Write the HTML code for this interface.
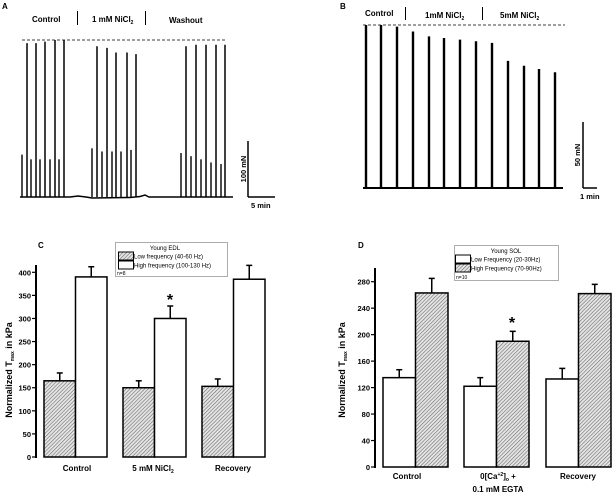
<!DOCTYPE html>
<html><head><meta charset="utf-8"><style>
body{margin:0;background:#fff}
svg{display:block;font-family:"Liberation Sans",Arial,sans-serif}
</style></head><body>
<svg id="fig" width="614" height="496" viewBox="0 0 614 496" xmlns="http://www.w3.org/2000/svg">
<defs>
<pattern id="hatch" width="2.6" height="2.6" patternUnits="userSpaceOnUse" patternTransform="rotate(45)">
<rect width="2.6" height="2.6" fill="#e4e4e4"/><line x1="0" y1="0" x2="0" y2="2.6" stroke="#666" stroke-width="1.1"/>
</pattern>
</defs>
<g id="panelA">
<text x="2" y="9" font-size="8" font-weight="bold">A</text>
<text x="32" y="22" font-size="8" font-weight="bold">Control</text>
<line x1="77.5" y1="11" x2="77.5" y2="25" stroke="#000"/>
<text x="92" y="22" font-size="8" font-weight="bold">1 mM NiCl<tspan font-size="5" dy="2">2</tspan></text>
<line x1="145.5" y1="11" x2="145.5" y2="25" stroke="#000"/>
<text x="169" y="23" font-size="8" font-weight="bold">Washout</text>
<line x1="22" y1="40" x2="227" y2="40" stroke="#000" stroke-width="0.7" stroke-dasharray="3,2"/>
<path d="M20 197 L70 197 L78 196 L86 197 L92 198 L130 197.5 L140 196.5 L145 195 L149 197 L233 197" fill="none" stroke="#000" stroke-width="1.5"/>
<g id="spikesA"></g>
<line x1="248" y1="141" x2="248" y2="197" stroke="#000" stroke-width="1.5"/>
<line x1="248" y1="197" x2="275" y2="197" stroke="#000" stroke-width="1.5"/>
<text transform="translate(246,169) rotate(-90)" text-anchor="middle" font-size="7.5" font-weight="bold">100 mN</text>
<text x="251" y="208" font-size="7.5" font-weight="bold">5 min</text>
</g>
<g id="panelB">
<text x="340" y="9" font-size="8" font-weight="bold">B</text>
<text x="365" y="16" font-size="8" font-weight="bold">Control</text>
<line x1="405.5" y1="7" x2="405.5" y2="20" stroke="#000"/>
<text x="425" y="18" font-size="8" font-weight="bold">1mM NiCl<tspan font-size="5" dy="2">2</tspan></text>
<line x1="482.5" y1="7" x2="482.5" y2="20" stroke="#000"/>
<text x="500" y="18" font-size="8" font-weight="bold">5mM NiCl<tspan font-size="5" dy="2">2</tspan></text>
<line x1="363" y1="25" x2="565" y2="25" stroke="#000" stroke-width="0.7" stroke-dasharray="3,2"/>
<line x1="363" y1="188" x2="563" y2="188" stroke="#000" stroke-width="2"/>
<g id="spikesB"></g>
<line x1="583" y1="122" x2="583" y2="188" stroke="#000" stroke-width="1.5"/>
<line x1="583" y1="188" x2="597" y2="188" stroke="#000" stroke-width="1.5"/>
<text transform="translate(580,155) rotate(-90)" text-anchor="middle" font-size="7.5" font-weight="bold">50 mN</text>
<text x="580" y="199" font-size="7.5" font-weight="bold">1 min</text>
</g>
<g id="panelC">
<text x="38" y="248" font-size="8" font-weight="bold">C</text>
<g id="axC"></g><g id="barsC"></g>
<text transform="translate(12,370) rotate(-90)" text-anchor="middle" font-size="9" font-weight="bold">Normalized T<tspan font-size="5" dy="2">max</tspan><tspan dy="-2"> in kPa</tspan></text>
<text x="170" y="305" text-anchor="middle" font-size="16" font-weight="bold">*</text>
<g>
<rect x="115.5" y="242.5" width="112" height="34" fill="#fff" stroke="#999" stroke-width="0.8"/>
<text x="165" y="250" text-anchor="middle" font-size="6">Young EDL</text>
<rect x="118.5" y="252" width="15" height="8" fill="url(#hatch)" stroke="#000"/>
<text x="134" y="258.5" font-size="6">Low frequency (40-60 Hz)</text>
<rect x="118.5" y="261" width="15" height="8" fill="#fff" stroke="#000"/>
<text x="134" y="267.5" font-size="6">High frequency (100-130 Hz)</text>
<text x="117" y="275" font-size="5">n=8</text>
</g>
</g>
<g id="panelD">
<text x="358" y="248" font-size="8" font-weight="bold">D</text>
<g id="axD"></g><g id="barsD"></g>
<text transform="translate(345,370) rotate(-90)" text-anchor="middle" font-size="9" font-weight="bold">Normalized T<tspan font-size="5" dy="2">max</tspan><tspan dy="-2"> in kPa</tspan></text>
<text x="512" y="328" text-anchor="middle" font-size="16" font-weight="bold">*</text>
<g>
<rect x="454.5" y="245.5" width="104" height="35" fill="#fff" stroke="#999" stroke-width="0.8"/>
<text x="506" y="253" text-anchor="middle" font-size="6">Young SOL</text>
<rect x="455.5" y="255" width="15" height="8" fill="#fff" stroke="#000"/>
<text x="471" y="261.5" font-size="6">Low Frequency (20-30Hz)</text>
<rect x="455.5" y="264" width="15" height="8" fill="url(#hatch)" stroke="#000"/>
<text x="471" y="270.5" font-size="6">High Frequency (70-90Hz)</text>
<text x="456" y="279" font-size="5">n=10</text>
</g>
</g>
</svg>
<script>
// Panel A trace data (spike peak force, fraction of dashed reference; baseline 0)
const aTallTimes=[27,36,45,55,64,97,107,116,127,136,186,196,206,216,225];
const aTallPeaks=[0.98,0.98,0.99,1.0,1.0,0.96,0.95,0.92,0.92,0.91,0.96,0.97,0.97,0.97,0.97];
const aSmallTimes=[22,31,40,50,59,92,102,112,121,131,181,191,201,211,221];
const aSmallPeaks=[0.27,0.24,0.24,0.24,0.24,0.31,0.29,0.29,0.29,0.30,0.28,0.26,0.24,0.22,0.21];
// Panel B spikes
const bTimes=[366,381,397,413,429,444,460,476,492,508,524,539,555];
const bPeaks=[1.0,1.0,0.99,0.96,0.93,0.92,0.91,0.90,0.89,0.78,0.75,0.73,0.71];
// Panel C data
const cCategories=["Control","5 mM NiCl2","Recovery"];
const cLow=[165,150,153];
const cLowErr=[17,15,16];
const cHigh=[390,300,385];
const cHighErr=[22,27,30];
const cTicks=[0,50,100,150,200,250,300,350,400];
// Panel D data
const dCategories=["Control","0[Ca+2]o + 0.1 mM EGTA","Recovery"];
const dLow=[135,122,133];
const dLowErr=[12,13,16];
const dHigh=[263,190,262];
const dHighErr=[22,15,14];
const dTicks=[0,40,80,120,160,200,240,280];

const NS="http://www.w3.org/2000/svg";
function mk(tag,attrs,parent){const e=document.createElementNS(NS,tag);for(const k in attrs)e.setAttribute(k,attrs[k]);parent.appendChild(e);return e;}

// Traces
const yA=f=>197-f*(197-40);
const gA=document.getElementById('spikesA');
aTallTimes.forEach((t,i)=>{const l=mk('line',{x1:t,x2:t,y1:197,y2:yA(aTallPeaks[i]),stroke:'#000','stroke-width':1.5},gA);

});
aSmallTimes.forEach((t,i)=>{const l=mk('line',{x1:t,x2:t,y1:197,y2:yA(aSmallPeaks[i]),stroke:'#000','stroke-width':1.4},gA);

});
const yB=f=>188-f*(188-25);
const gB=document.getElementById('spikesB');
bTimes.forEach((t,i)=>{const l=mk('line',{x1:t,x2:t,y1:188,y2:yB(bPeaks[i]),stroke:'#000','stroke-width':2.4},gB);

});

function barChart(axId,barsId,o){
  const ax=document.getElementById(axId),g=document.getElementById(barsId);
  const y=v=>o.y0-v*o.k;
  const axl=mk('line',{x1:o.ax,x2:o.ax,y1:o.axTop,y2:o.y0+1,stroke:'#000','stroke-width':2},ax);
  
  
  o.ticks.forEach(t=>{
    mk('line',{x1:o.ax-4,x2:o.ax,y1:y(t),y2:y(t),stroke:'#000','stroke-width':1.2},ax);
    const tx=mk('text',{x:o.ax-5,y:y(t)+3,'text-anchor':'end','font-size':7.5,'font-weight':'bold'},ax);
    tx.textContent=t;
    
    
  });
  o.lowX.forEach((x0,i)=>{
    const w=o.w;
    [[x0,o.low[i],o.lowErr[i],o.lowFill,'bar-low'],[x0+w,o.high[i],o.highErr[i],o.highFill,'bar-high']].forEach(([bx,v,e,fill,nm])=>{
      mk('line',{x1:bx+w/2,x2:bx+w/2,y1:y(v),y2:y(v+e),stroke:'#000','stroke-width':1.5},g);
      mk('line',{x1:bx+w/2-3,x2:bx+w/2+3,y1:y(v+e),y2:y(v+e),stroke:'#000','stroke-width':1.5},g);
      const r=mk('rect',{x:bx,y:y(v),width:w,height:o.y0-y(v),fill:fill,stroke:'#000','stroke-width':1.5},g);
      
      
    });
  });
}
barChart('axC','barsC',{ax:36,y0:457,k:(457-272.3)/400,axTop:265,ticks:cTicks,lowX:[44,123,202],w:31.5,low:cLow,lowErr:cLowErr,high:cHigh,highErr:cHighErr,lowFill:'url(#hatch)',highFill:'#fff'});
barChart('axD','barsD',{ax:375,y0:467,k:(467-281.7)/280,axTop:268,ticks:dTicks,lowX:[383,464,546],w:32.5,low:dLow,lowErr:dLowErr,high:dHigh,highErr:dHighErr,lowFill:'#fff',highFill:'url(#hatch)'});

// category labels
function catLabel(x,yy,html,nm){const t=mk('text',{x:x,y:yy,'text-anchor':'middle','font-size':8,'font-weight':'bold'},document.getElementById('fig'));t.innerHTML=html;

}
catLabel(77,471,cCategories[0],'x-label-control-c');
catLabel(153,471,'5 mM NiCl<tspan font-size="5" dy="2">2</tspan>','x-label-nicl-c');
catLabel(233,471,cCategories[2],'x-label-recovery-c');
catLabel(407,479,dCategories[0],'x-label-control-d');
catLabel(498,479,'0[Ca<tspan font-size="5" dy="-3">+2</tspan><tspan dy="3">]</tspan><tspan font-size="5" dy="2">o</tspan><tspan dy="-2"> +</tspan>','x-label-ca-d');
catLabel(498,492,'0.1 mM EGTA','x-label-egta-d');
catLabel(578,479,dCategories[2],'x-label-recovery-d');
</script>
</body></html>
